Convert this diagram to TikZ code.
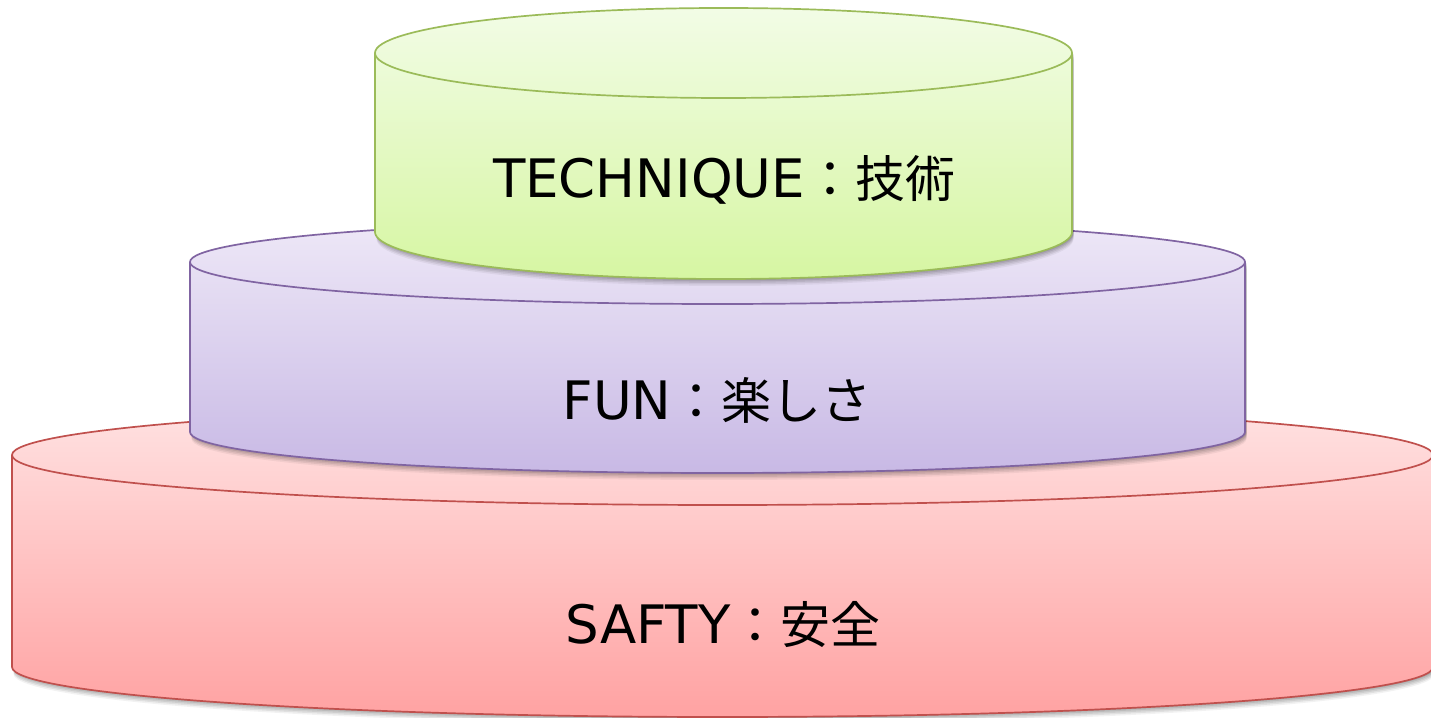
\documentclass[tikz,border=0pt]{standalone}
\usepackage{fontspec}
\setmainfont{DejaVu Sans}
\newfontfamily\cjk{Noto Sans CJK JP}
\definecolor{gEdge}{HTML}{9BBB59}
\definecolor{gTop}{HTML}{F2FCE6}
\definecolor{gBot}{HTML}{D6F6A2}
\definecolor{pEdge}{HTML}{8064A2}
\definecolor{pTop}{HTML}{EEE8F7}
\definecolor{pBot}{HTML}{C8B9E5}
\definecolor{rEdge}{HTML}{C0504D}
\definecolor{rTop}{HTML}{FFE2E2}
\definecolor{rBot}{HTML}{FFA2A2}
\tikzset{
  edge/.style={line width=1.7pt, line join=round},
  lbl/.style={font=\fontsize{53}{60}\selectfont, text=black, inner sep=0pt},
}
% #1 cx, #2 rx, #3 Ytop, #4 ry top, #5 Ybot, #6 ry bot, #7 edge, #8 top col, #9 bottom col
\newcommand{\cyl}[9]{%
  \foreach \s/\o in {7/0.05,5.5/0.07,4/0.08,2.5/0.09,1/0.1}{
    \fill[black, opacity=\o] (#1-#2+1.5,#3-\s) -- (#1-#2+1.5,#5-\s) arc[start angle=180, end angle=360, x radius=#2, y radius=#6] -- (#1+#2+1.5,#3-\s) -- cycle;
  }
  \path[top color=#8, bottom color=#9] (#1-#2,#3) -- (#1-#2,#5) arc[start angle=180, end angle=360, x radius=#2, y radius=#6] -- (#1+#2,#3) arc[start angle=0, end angle=180, x radius=#2, y radius=#4] -- cycle;
  \draw[edge, draw=#7] (#1-#2,#3) -- (#1-#2,#5) arc[start angle=180, end angle=360, x radius=#2, y radius=#6] -- (#1+#2,#3) arc[start angle=0, end angle=180, x radius=#2, y radius=#4] -- cycle;
  \draw[edge, draw=#7] (#1-#2,#3) arc[start angle=180, end angle=360, x radius=#2, y radius=#4];
}
\begin{document}
\begin{tikzpicture}[x=1pt,y=1pt]
\useasboundingbox (0,0) rectangle (1431,717);
\fill[white] (0,0) rectangle (1431,717);
% red (bottom)
\cyl{722.5}{710.5}{262}{50}{50}{50}{rEdge}{rTop}{rBot}
% purple (middle)
\cyl{717.5}{527.5}{455}{42}{285}{41}{pEdge}{pTop}{pBot}
% green (top)
\cyl{723.5}{348.5}{664}{45}{485}{47}{gEdge}{gTop}{gBot}
\node[lbl] (tech) at (724,537) {TECHNIQUE{\cjk\fontsize{50}{60}\selectfont ：技術}};
\node[lbl] (fun) at (717,317) {FUN{\cjk\fontsize{50}{60}\selectfont ：楽しさ}};
\node[lbl] (safty) at (723,92) {SAFTY{\cjk\fontsize{50}{60}\selectfont ：安全}};
\end{tikzpicture}
\end{document}
